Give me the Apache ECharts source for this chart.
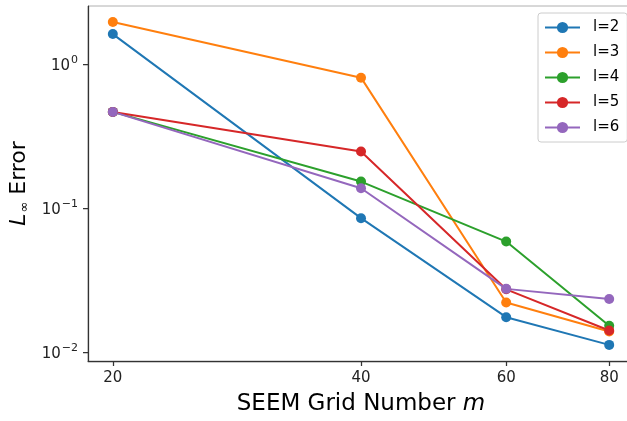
<!DOCTYPE html>
<html>
<head>
<meta charset="utf-8">
<script src="https://cdn.jsdelivr.net/npm/echarts@6/dist/echarts.min.js"></script>
<style>
  html, body { margin: 0; padding: 0; background: #fff; }
  #chart { width: 627px; height: 421px; }
</style>
</head>
<body>
<div id="chart"></div>
<script>
// grid numbers m
var gridNumbers = [20, 40, 60, 80];
// L_inf error for each l
var errL2 = [1.61, 0.0853, 0.01757, 0.01129];
var errL3 = [1.95, 0.803, 0.0222, 0.01396];
var errL4 = [0.465, 0.153, 0.0587, 0.0153];
var errL5 = [0.465, 0.247, 0.0274, 0.0142];
var errL6 = [0.465, 0.1376, 0.0276, 0.0235];
var seriesNames = ['l=2', 'l=3', 'l=4', 'l=5', 'l=6'];
var xTicks = [20, 40, 60, 80];
var yTicks = [0.01, 0.1, 1];

var colors = ['#1f77b4', '#ff7f0e', '#2ca02c', '#d62728', '#9467bd'];
var allErr = [errL2, errL3, errL4, errL5, errL6];

function sciLabel(v) {
    var e = Math.round(Math.log10(v));
    var s = e < 0 ? '−' + (-e) : String(e);
    return '{b|10}{e|' + s + '}';
}

var font = 'DejaVu Sans';
var myChart = echarts.init(document.getElementById('chart'));

var option = {
    animation: false,
    color: colors,
    textStyle: { fontFamily: font },
    grid: {
        left: 88,
        top: 6,
        right: -7,
        bottom: 60,
        show: true,
        borderColor: '#b0b0b0',
        borderWidth: 1,
        outerBoundsMode: 'none'
    },
    legend: {
        orient: 'vertical',
        left: 538,
        top: 13,
        padding: [7, 8, 7, 6],
        itemWidth: 35,
        itemHeight: 14,
        itemGap: 10,
        borderColor: '#cccccc',
        borderWidth: 1,
        borderRadius: 3,
        backgroundColor: 'rgba(255,255,255,0.8)',
        textStyle: { fontSize: 15, color: '#000', fontFamily: font, padding: [0, 0, 0, 8] },
        data: seriesNames
    },
    xAxis: {
        type: 'log',
        logBase: 10,
        min: 18.66,
        max: 85.74,
        name: '{n|SEEM Grid Number }{i|m}',
        nameLocation: 'middle',
        nameGap: 32,
        nameTextStyle: {
            rich: {
                n: { fontSize: 23, color: '#000', fontFamily: font },
                i: { fontSize: 23, color: '#000', fontFamily: font, fontStyle: 'italic' }
            }
        },
        axisLine: { show: true, lineStyle: { color: '#333', width: 1.25 } },
        axisTick: { show: true, length: 5, customValues: xTicks, lineStyle: { color: '#333', width: 1.25 } },
        axisLabel: {
            customValues: xTicks,
            margin: 10,
            fontSize: 15,
            color: '#222',
            formatter: function (v) { return String(Math.round(v)); }
        },
        splitLine: { show: false },
        minorTick: { show: false }
    },
    yAxis: {
        type: 'log',
        logBase: 10,
        min: 0.00873,
        max: 2.52,
        name: '{i|L}{s|∞}{n| Error}',
        nameLocation: 'middle',
        nameGap: 52,
        nameTextStyle: {
            rich: {
                i: { fontSize: 22, color: '#000', fontFamily: font, fontStyle: 'italic' },
                s: { fontSize: 13, color: '#000', fontFamily: font, padding: [10, 0, 0, 1] },
                n: { fontSize: 22, color: '#000', fontFamily: font }
            }
        },
        axisLine: { show: true, lineStyle: { color: '#333', width: 1.25 } },
        axisTick: { show: true, length: 5, customValues: yTicks, lineStyle: { color: '#333', width: 1.25 } },
        axisLabel: {
            customValues: yTicks,
            margin: 10,
            color: '#222',
            formatter: sciLabel,
            rich: {
                b: { fontSize: 15, color: '#222', fontFamily: font, verticalAlign: 'bottom', padding: [0, 0, 0, 0] },
                e: { fontSize: 11, color: '#222', fontFamily: font, verticalAlign: 'bottom', padding: [0, 0, 8, 1] }
            }
        },
        splitLine: { show: false },
        minorTick: { show: false }
    },
    series: allErr.map(function (arr, k) {
        return {
            name: seriesNames[k],
            type: 'line',
            symbol: 'circle',
            symbolSize: 10,
            lineStyle: { width: 2 },
            data: gridNumbers.map(function (x, i) { return [x, arr[i]]; })
        };
    })
};
myChart.setOption(option);
</script>
</body>
</html>
